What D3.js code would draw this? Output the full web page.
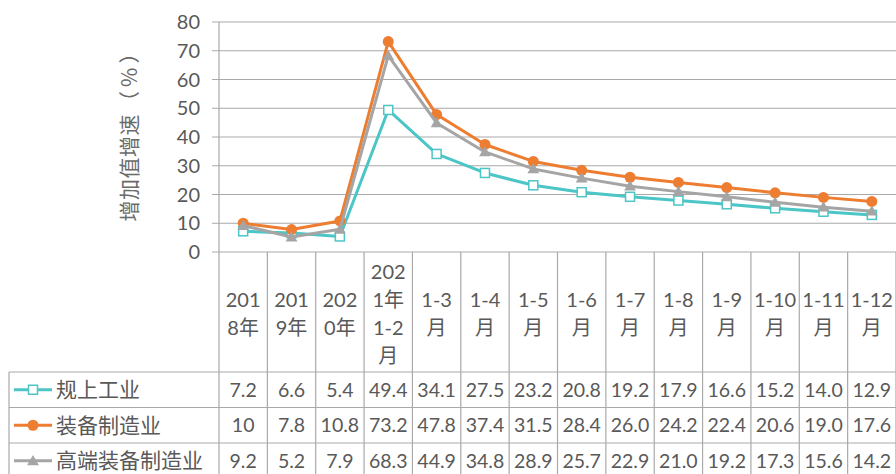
<!DOCTYPE html>
<html>
<head>
<meta charset="utf-8">
<script src="https://cdn.jsdelivr.net/npm/d3@7"></script>
<style>
  html, body { margin: 0; padding: 0; background: #fff; }
  svg { display: block; }
  text { font-family: Lato, "Noto Sans CJK SC", sans-serif; fill: #595959; }
</style>
</head>
<body>
<svg id="chart" width="896" height="474"></svg>
<script>
// Categories (full names) and the wrapped lines shown in the table header
const categories = ["2018年", "2019年", "2020年", "2021年1-2月", "1-3月", "1-4月", "1-5月",
  "1-6月", "1-7月", "1-8月", "1-9月", "1-10月", "1-11月", "1-12月"];
const categoryLines = [
  ["201", "8年"], ["201", "9年"], ["202", "0年"], ["202", "1年", "1-2", "月"],
  ["1-3", "月"], ["1-4", "月"], ["1-5", "月"], ["1-6", "月"], ["1-7", "月"],
  ["1-8", "月"], ["1-9", "月"], ["1-10", "月"], ["1-11", "月"], ["1-12", "月"]
];

const seriesNames = ["规上工业", "装备制造业", "高端装备制造业"];
const industryValues = [7.2, 6.6, 5.4, 49.4, 34.1, 27.5, 23.2, 20.8, 19.2, 17.9, 16.6, 15.2, 14.0, 12.9];
const equipmentValues = [10, 7.8, 10.8, 73.2, 47.8, 37.4, 31.5, 28.4, 26.0, 24.2, 22.4, 20.6, 19.0, 17.6];
const highEndValues = [9.2, 5.2, 7.9, 68.3, 44.9, 34.8, 28.9, 25.7, 22.9, 21.0, 19.2, 17.3, 15.6, 14.2];
const valueLabels = [
  ["7.2", "6.6", "5.4", "49.4", "34.1", "27.5", "23.2", "20.8", "19.2", "17.9", "16.6", "15.2", "14.0", "12.9"],
  ["10", "7.8", "10.8", "73.2", "47.8", "37.4", "31.5", "28.4", "26.0", "24.2", "22.4", "20.6", "19.0", "17.6"],
  ["9.2", "5.2", "7.9", "68.3", "44.9", "34.8", "28.9", "25.7", "22.9", "21.0", "19.2", "17.3", "15.6", "14.2"]
];
const yTicks = [0, 10, 20, 30, 40, 50, 60, 70, 80];
const yTitleMain = "增加值增速";
const yTitleUnit = "（%）";

const seriesColors = ["#4cc5c6", "#ed7d31", "#a5a5a5"];
const seriesMarkers = ["square", "circle", "triangle"];
const seriesData = [industryValues, equipmentValues, highEndValues];

const W = 896, H = 474;
const plot = { left: 219, right: 896, top: 22, bottom: 252 };
const tableLeft = 9;
const headerBottom = 372;
const rowHeight = 35.5;
const gridColor = "#a9a9a9";

const svg = d3.select("#chart");

const x = d3.scaleBand().domain(categories).range([plot.left, plot.right]).padding(0);
const y = d3.scaleLinear().domain([0, 80]).range([plot.bottom, plot.top]);
const cx = c => x(c) + x.bandwidth() / 2;

// Horizontal gridlines with short ticks left of the axis
svg.append("g")
  .selectAll("line")
  .data(yTicks)
  .join("line")
  .attr("x1", plot.left - 7).attr("x2", plot.right)
  .attr("y1", d => y(d)).attr("y2", d => y(d))
  .attr("stroke", gridColor).attr("stroke-width", 1.2);

// Y tick labels
svg.append("g")
  .selectAll("text")
  .data(yTicks)
  .join("text")
  .attr("x", plot.left - 19)
  .attr("y", d => y(d))
  .attr("dy", "0.36em")
  .attr("text-anchor", "end")
  .style("font-size", "20px")
  .text(d => d);

// Y axis title (unit part spaced out like full-width punctuation)
const title = svg.append("text")
  .attr("transform", `translate(130,130) rotate(-90)`)
  .attr("text-anchor", "middle")
  .attr("dy", "0.35em")
  .style("font-family", "'Noto Sans CJK SC', sans-serif")
  .style("font-size", "21px")
  .style("fill", "#6b6b6b");
title.append("tspan").style("letter-spacing", "0.5px").text(yTitleMain);
title.append("tspan").attr("dx", 2).style("letter-spacing", "4px").text(yTitleUnit);

// Data table grid
const tableBottom = H + 10;
const table = svg.append("g").attr("stroke", gridColor).attr("stroke-width", 1.2);
// Axis line / first column border
table.append("line").attr("x1", plot.left).attr("x2", plot.left)
  .attr("y1", plot.top).attr("y2", tableBottom);
// Column dividers
table.selectAll("line.col")
  .data(categories)
  .join("line").attr("class", "col")
  .attr("x1", d => x(d) + x.bandwidth()).attr("x2", d => x(d) + x.bandwidth())
  .attr("y1", plot.bottom).attr("y2", tableBottom);
// Row dividers
const rowLines = d3.range(seriesNames.length).map(i => headerBottom + i * rowHeight);
table.selectAll("line.row")
  .data(rowLines)
  .join("line").attr("class", "row")
  .attr("x1", tableLeft).attr("x2", plot.right)
  .attr("y1", d => d).attr("y2", d => d);
// Left border of legend column
table.append("line").attr("x1", tableLeft).attr("x2", tableLeft)
  .attr("y1", headerBottom).attr("y2", tableBottom);

// Category header text
const headerMid = (plot.bottom + headerBottom) / 2 + 2;
const lineGap = 28;
const header = svg.append("g");
categories.forEach((c, i) => {
  const lines = categoryLines[i];
  const t = header.append("text")
    .attr("text-anchor", "middle")
    .style("font-size", "20px");
  lines.forEach((ln, k) => {
    t.append("tspan")
      .attr("x", cx(c))
      .attr("y", headerMid + (k - (lines.length - 1) / 2) * lineGap)
      .attr("dy", "0.36em")
      .text(ln);
  });
});

// Marker shapes
function drawMarker(g, type, px, py, color) {
  if (type === "square") {
    g.append("rect").attr("x", px - 4.5).attr("y", py - 4.5)
      .attr("width", 9).attr("height", 9)
      .attr("fill", "#fff").attr("stroke", color).attr("stroke-width", 1.5);
  } else if (type === "circle") {
    g.append("circle").attr("cx", px).attr("cy", py).attr("r", 5.5).attr("fill", color);
  } else {
    g.append("path")
      .attr("d", d3.symbol(d3.symbolTriangle, 60)())
      .attr("transform", `translate(${px},${py + 1})`)
      .attr("fill", color);
  }
}

// Series lines and markers
const line = d3.line().x((d, i) => cx(categories[i])).y(d => y(d));
seriesData.forEach((vals, s) => {
  const g = svg.append("g");
  g.append("path")
    .datum(vals)
    .attr("d", line)
    .attr("fill", "none")
    .attr("stroke", seriesColors[s])
    .attr("stroke-width", 3)
    .attr("stroke-linejoin", "round");
  vals.forEach((v, i) => drawMarker(g, seriesMarkers[s], cx(categories[i]), y(v), seriesColors[s]));
});

// Table rows: legend key + values
seriesNames.forEach((name, s) => {
  const rowMid = headerBottom + s * rowHeight + rowHeight / 2;
  const g = svg.append("g");
  g.append("line").attr("x1", 14).attr("x2", 52)
    .attr("y1", rowMid).attr("y2", rowMid)
    .attr("stroke", seriesColors[s]).attr("stroke-width", 3);
  drawMarker(g, seriesMarkers[s], 33, rowMid, seriesColors[s]);
  g.append("text")
    .attr("x", 56).attr("y", rowMid).attr("dy", "0.36em")
    .style("font-size", "21px")
    .text(name);
  g.selectAll("text.val")
    .data(valueLabels[s])
    .join("text").attr("class", "val")
    .attr("x", (d, i) => cx(categories[i]))
    .attr("y", rowMid).attr("dy", "0.36em")
    .attr("text-anchor", "middle")
    .style("font-size", "19.5px")
    .text(d => d);
});
</script>
</body>
</html>
